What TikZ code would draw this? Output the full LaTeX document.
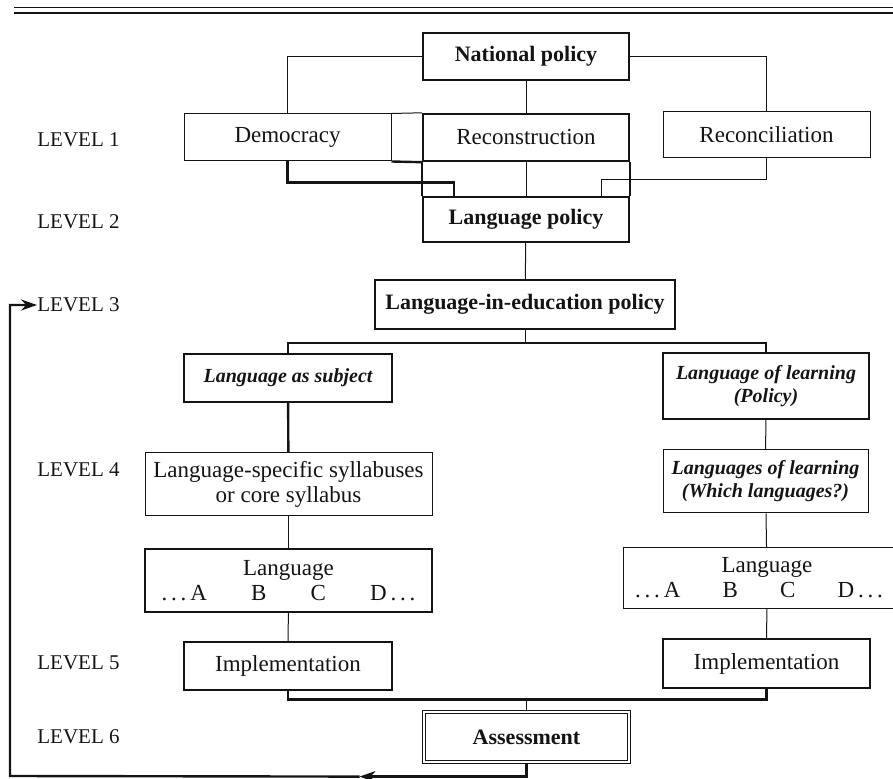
\documentclass[tikz,border=0pt]{standalone}
\usepackage{fontspec}
\setmainfont{Liberation Serif}
\usepackage{xcolor}
\usepackage{tikz}
\usetikzlibrary{arrows.meta,calc}
\definecolor{lipInk}{HTML}{141414}

\tikzset{
  lobox/.style={draw=lipInk,line width=0.5pt,inner sep=2pt,align=center,text=lipInk,
    font=\fontsize{11.5}{12.5}\selectfont},
  hibox/.style={lobox,line width=1.2pt},
  dblbox/.style={lobox,line width=0.6pt,double,double distance=1.2pt},
  boldtxt/.style={font=\fontsize{11}{12.5}\selectfont\bfseries},
  itxt/.style={font=\fontsize{10}{11.5}\selectfont\bfseries\itshape},
  lvl/.style={anchor=west,inner sep=0pt,text=lipInk,font=\fontsize{10.5}{12}\selectfont},
  link/.style={draw=lipInk,line width=0.5pt},
  heavy/.style={draw=lipInk,line width=1.2pt},
  loopback/.style={heavy,-{Stealth[length=8pt,width=5.5pt]}}
}

\begin{document}
\begin{tikzpicture}[x=0.5pt,y=-0.5pt]
  \clip (0,0) rectangle (893,779);
  \draw[link] (14,8) -- (893,8);
  \draw[draw=lipInk,line width=1.1pt] (14,13) -- (893,13);

  \node[lvl] (lvl1) at (37,140) {LEVEL 1};
  \node[lvl] (lvl2) at (37,222) {LEVEL 2};
  \node[lvl] (lvl3) at (37,305) {LEVEL 3};
  \node[lvl] (lvl4) at (37,470) {LEVEL 4};
  \node[lvl] (lvl5) at (37,663) {LEVEL 5};
  \node[lvl] (lvl6) at (37,737) {LEVEL 6};

  \node[hibox,boldtxt,minimum width=103pt,minimum height=23.5pt] (natpol) at (526,56.5) {National policy};
  \node[lobox,minimum width=103.5pt,minimum height=23.5pt] (democ) at (287.5,137.5) {Democracy};
  \node[hibox,minimum width=103pt,minimum height=23.5pt] (recon) at (526,137.5) {Reconstruction};
  \node[lobox,minimum width=103.5pt,minimum height=23pt] (reconc) at (766.5,135) {Reconciliation};
  \node[hibox,boldtxt,minimum width=103pt,minimum height=22.5pt] (langpol) at (526,219.5) {Language policy};
  \node[hibox,boldtxt,minimum width=150pt,minimum height=24.5pt] (lied) at (525,304.5) {Language-in-education policy};

  \node[hibox,itxt,minimum width=104pt,minimum height=24pt] (subj) at (288,378) {Language as subject};
  \node[hibox,itxt,minimum width=103pt,minimum height=33pt] (learn) at (766,386) {Language of learning\\(Policy)};
  \node[lobox,minimum width=143.5pt,minimum height=31.5pt] (syll) at (288.5,484.5) {Language-specific syllabuses\\or core syllabus};
  \node[lobox,itxt,minimum width=102.5pt,minimum height=31.5pt] (which) at (765.5,481.5) {Languages of learning\\(Which languages?)};
  \node[hibox,minimum width=143.5pt,minimum height=31.5pt] (langL) at (288.5,580.5)
    {Language\\\makebox[127pt]{.\,.\,.\,A\hfill B\hfill C\hfill D\,.\,.\,.}};
  \node[lobox,minimum width=144pt,minimum height=30pt] (langR) at (767,578)
    {Language\\\hspace*{-8pt}\makebox[124pt]{.\,.\,.\,A\hfill B\hfill C\hfill D\,.\,.\,.}};
  \node[hibox,minimum width=104pt,minimum height=24pt] (implL) at (288,666) {Implementation};
  \node[hibox,minimum width=103.5pt,minimum height=24.5pt] (implR) at (766.5,663.5) {Implementation};
  \node[dblbox,boldtxt,minimum width=102.5pt,minimum height=25pt] (assess) at (526.5,737) {Assessment};

  \draw[link] (natpol.west) -| (democ.north);
  \draw[link] (natpol) -- (recon);
  \draw[link] (natpol.east) -| (reconc.north);
  \draw[link] (democ.north east) -- (recon.north west);
  \draw[heavy] (democ.south east) -- (recon.south west);
  \draw[heavy] (recon.south west) -- (langpol.north west) (recon.south east) -- (langpol.north east);
  \draw[heavy] (democ.south) -- ++(0,21) -| ($(langpol.north west)+(32,0)$);
  \draw[link] (recon) -- (langpol);
  \draw[link] (reconc.south) -- ++(0,21) -| ($(langpol.north east)+(-29,0)$);

  \draw[link] (langpol) -- (lied);
  \coordinate (split) at ($(lied.south)+(0,13)$);
  \draw[link] (lied.south) -- (split);
  \draw[heavy] (subj.north) |- (split) -| (learn.north);
  \draw[heavy] (subj) -- (syll);
  \draw[link] (syll) -- (langL);
  \draw[link] (langL) -- (implL);
  \draw[link] (learn) -- (which);
  \draw[link] (which) -- (langR);
  \draw[link] (langR) -- (implR);

  \coordinate (merge) at ($(assess.north)+(0,-12)$);
  \draw[heavy] (implL.south) |- (merge) -| (implR.south);
  \draw[link] (merge) -- (assess.north);

  \coordinate (fbk) at ($(assess.south)+(-167,14)$);
  \coordinate (loopc) at (10,776);
  \draw[loopback] (assess.south) |- (fbk);
  \draw[loopback] (fbk) -- (loopc) |- (lvl3.west);
\end{tikzpicture}
\end{document}
